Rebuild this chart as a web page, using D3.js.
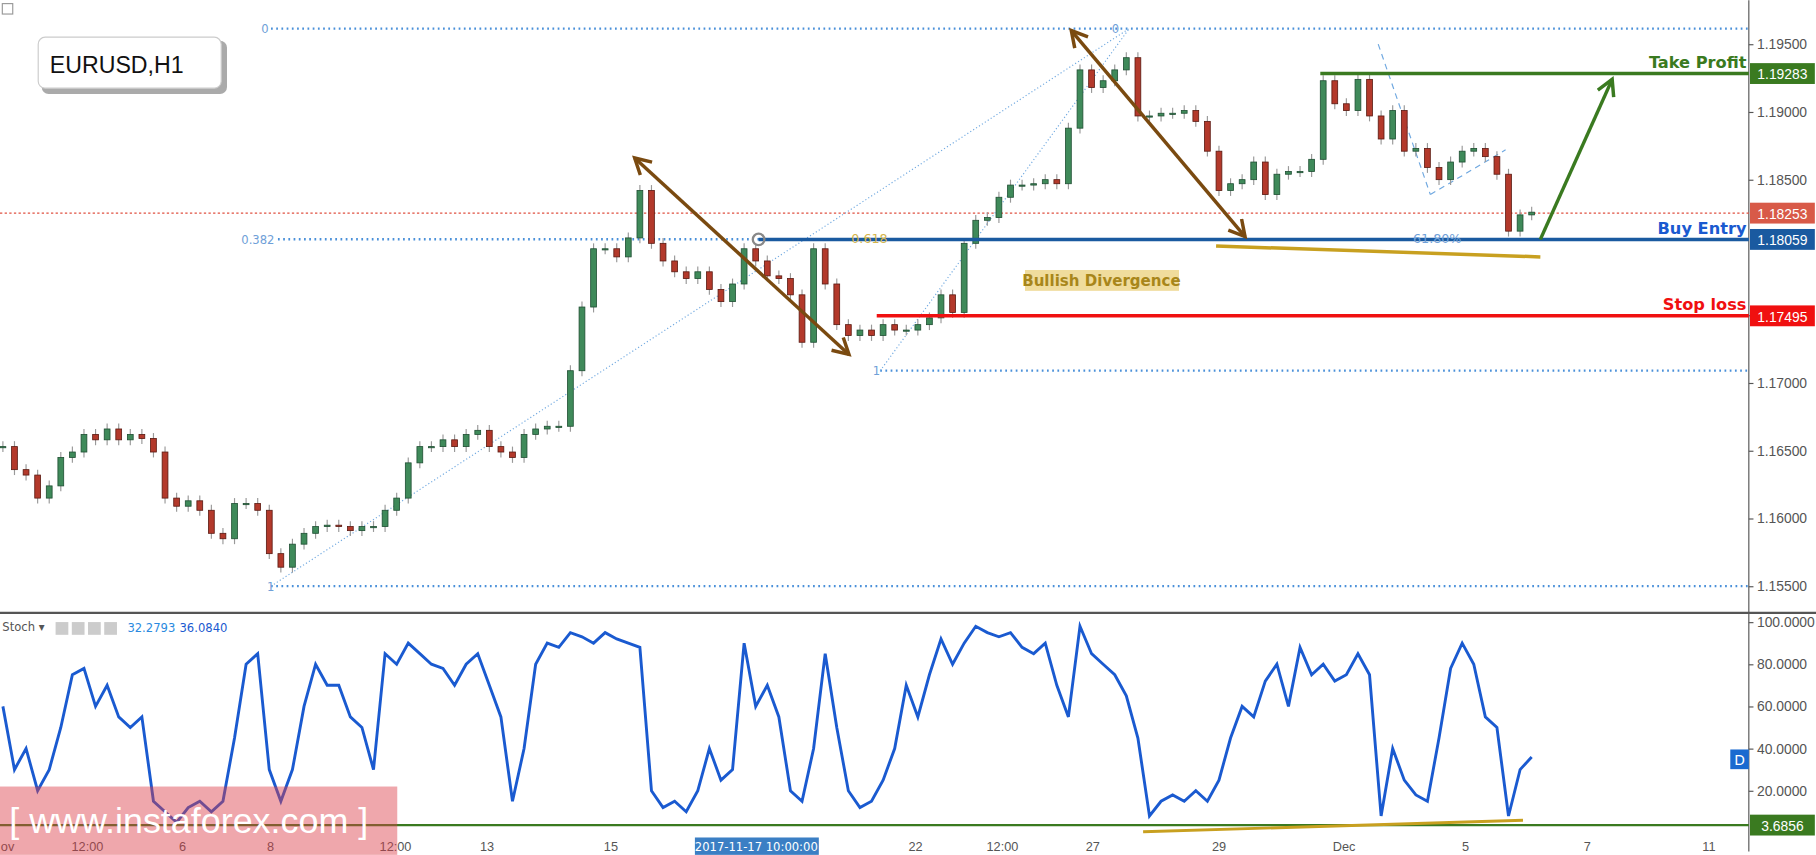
<!DOCTYPE html><html><head><meta charset="utf-8"><script src="https://cdn.jsdelivr.net/npm/d3@7"></script>
<style>body{margin:0;background:#fff;font-family:"DejaVu Sans",sans-serif}</style></head><body><svg id="c" width="1816" height="855" viewBox="0 0 1568 738"></svg>
<script>
const closes=[1.1653,1.1636,1.1632,1.1615,1.1624,1.1645,1.1649,1.1662,1.1658,1.1666,1.1658,1.1662,1.1659,1.1649,1.1615,1.1609,1.1613,1.1606,1.1589,1.1585,1.1611,1.1611,1.1606,1.1574,1.1564,1.1581,1.1589,1.1594,1.1595,1.1594,1.1591,1.1594,1.1594,1.1606,1.1615,1.1641,1.1653,1.1653,1.1658,1.1653,1.1662,1.1665,1.1653,1.1649,1.1645,1.1662,1.1666,1.1668,1.1668,1.1709,1.1756,1.1799,1.1799,1.1793,1.1807,1.1842,1.1803,1.1790,1.1782,1.1777,1.1782,1.1769,1.1760,1.1773,1.1799,1.1790,1.1779,1.1777,1.1765,1.1730,1.1799,1.1773,1.1743,1.1735,1.1739,1.1735,1.1743,1.1739,1.1739,1.1743,1.1748,1.1765,1.1752,1.1803,1.1820,1.1822,1.1837,1.1846,1.1846,1.1847,1.1850,1.1847,1.1888,1.1931,1.1918,1.1923,1.1931,1.1940,1.1897,1.1897,1.1899,1.1899,1.1901,1.1893,1.1871,1.1842,1.1847,1.1850,1.1863,1.1839,1.1854,1.1856,1.1856,1.1865,1.1923,1.1906,1.1901,1.1924,1.1897,1.1880,1.1901,1.1871,1.1873,1.1859,1.1850,1.1863,1.1871,1.1873,1.1867,1.1854,1.1812,1.1824,1.1826];
const stoch=[60,30,40,20,30,50,75,78,60,70,55,50,55,15,10,5,12,15,10,15,45,80,85,30,15,30,60,80,70,70,55,50,30,85,80,90,85,80,78,70,80,85,70,55,15,40,80,90,88,95,93,90,95,92,90,88,20,12,15,10,20,40,25,30,90,60,70,55,20,15,40,85,50,20,12,15,25,40,70,55,75,92,80,90,98,95,93,95,88,85,90,70,55,98,85,80,75,65,45,8,15,18,15,20,15,25,45,60,55,72,80,60,88,75,80,72,75,85,75,8,40,25,18,15,45,78,90,80,55,50,8,30,36];
const priceTicks=[1.155,1.16,1.165,1.17,1.175,1.185,1.19,1.195];
const stochTicks=[20,40,60,80,100];
const timeLabels=["ov","12:00","6","8","12:00","13","15","22","12:00","27","29","Dec","5","7","11"];
const timeIdx=[0.6,7.5,15.7,23.3,34.1,42,52.7,79,86.5,94.3,105.2,116,126.5,137,147.5];
const levels={tp:1.19283,entry:1.18059,stop:1.17495,last:1.18253,fib0:1.19615,fib382:1.1806,fib1a:1.1709,fib1b:1.155};
const stochLast=3.6856;

const svg=d3.select("#c");
const W=1510;
const x=d3.scaleLinear().domain([0,151]).range([0,W]);
const y=d3.scaleLinear().domain([1.155,1.195]).range([506,38]);
const ys=d3.scaleLinear().domain([0,100]).range([719,537]);
const g=svg.append("g");
g.append("line").attr("x1",W).attr("x2",W).attr("y1",0).attr("y2",735).attr("stroke","#555");
g.append("line").attr("x1",0).attr("x2",1568).attr("y1",529).attr("y2",529).attr("stroke","#555").attr("stroke-width",2);
const ax=d3.axisRight(y).tickValues(priceTicks).tickFormat(d3.format(".5f")).tickSize(4);
const ag=svg.append("g").attr("transform",`translate(${W},0)`).call(ax);
const as=svg.append("g").attr("transform",`translate(${W},0)`).call(d3.axisRight(ys).tickValues(stochTicks).tickFormat(d3.format(".4f")).tickSize(4));
[ag,as].forEach(a=>{a.select(".domain").remove();a.selectAll("text").attr("fill","#555").attr("font-size",12).attr("font-family","Arial,'Liberation Sans'");a.selectAll("line").attr("stroke","#555");});
const xa=svg.append("g").attr("transform","translate(0,724)").call(d3.axisBottom(x).tickValues(timeIdx).tickFormat((d,i)=>timeLabels[i]).tickSize(0));
xa.select(".domain").remove();xa.selectAll("text").attr("fill","#555").attr("font-size",11).attr("font-family","Arial,'Liberation Sans'");
const dotted=(p,x1,x2,col)=>g.append("line").attr("x1",x(x1)).attr("x2",x2).attr("y1",y(p)).attr("y2",y(p)).attr("stroke",col||"#4a90d9").attr("stroke-width",2).attr("stroke-dasharray","1.5,3");
dotted(levels.fib0,23.4,W);dotted(levels.fib382,24,W);dotted(levels.fib1a,76,W);dotted(levels.fib1b,23.4,W);
svg.append("text").attr("x",x(23.4)-2).attr("y",y(levels.fib0)+4).attr("text-anchor","end").attr("fill","#6fa0d8").attr("font-size",10).text("0");
svg.append("text").attr("x",x(23.7)).attr("y",y(levels.fib382)+4).attr("text-anchor","end").attr("fill","#6fa0d8").attr("font-size",10).text("0.382");
svg.append("text").attr("x",x(23.7)).attr("y",y(levels.fib1b)+4).attr("text-anchor","end").attr("fill","#6fa0d8").attr("font-size",10).text("1");
svg.append("text").attr("x",x(76)).attr("y",y(levels.fib1a)+4).attr("text-anchor","end").attr("fill","#6fa0d8").attr("font-size",10).text("1");
svg.append("text").attr("x",x(96)).attr("y",y(levels.fib0)+4).attr("fill","#6fa0d8").attr("font-size",10).text("0");
g.append("line").attr("x1",0).attr("x2",W).attr("y1",y(levels.last)).attr("y2",y(levels.last)).attr("stroke","#e05040").attr("stroke-dasharray","2,2");
const thin=(a,b,c,d,dash,col,w)=>g.append("line").attr("x1",x(a)).attr("y1",y(b)).attr("x2",x(c)).attr("y2",y(d)).attr("stroke",col||"#6fa8e0").attr("stroke-width",w||1).attr("stroke-dasharray",dash);
thin(23.4,levels.fib1b,97.5,levels.fib0,"1,2");thin(76,levels.fib1a,97.5,levels.fib0,"1,2");
thin(119,1.1950,123.5,1.1839,"5,4");thin(123.5,1.1839,130,1.1872,"5,4");
const cw=5;
closes.forEach((c,i)=>{const o=i?closes[i-1]:c;const up=c>=o;const hi=Math.max(o,c)+0.0004,lo=Math.min(o,c)-0.0004;
 g.append("line").attr("x1",x(i)+cw/2).attr("x2",x(i)+cw/2).attr("y1",y(hi)).attr("y2",y(lo)).attr("stroke","#999");
 g.append("rect").attr("x",x(i)).attr("width",cw).attr("y",y(Math.max(o,c))).attr("height",Math.max(1,Math.abs(y(o)-y(c)))).attr("fill",up?"#3f8a5a":"#b3392b").attr("stroke",up?"#1f4f33":"#5a1a12").attr("stroke-width",0.7);});
g.append("line").attr("x1",x(65.5)).attr("x2",W).attr("y1",y(levels.entry)).attr("y2",y(levels.entry)).attr("stroke","#1a5aa0").attr("stroke-width",3);
g.append("circle").attr("cx",x(65.5)).attr("cy",y(levels.entry)).attr("r",5).attr("fill","none").attr("stroke","#888").attr("stroke-width",2);
svg.append("text").attr("x",x(73.5)).attr("y",y(levels.entry)+3).attr("fill","#d4b44a").attr("font-size",11).text("0.618");
svg.append("text").attr("x",x(122)).attr("y",y(levels.entry)+3).attr("fill","#6fa0d8").attr("font-size",11).text("61.80%");
g.append("line").attr("x1",x(114)).attr("x2",W).attr("y1",y(levels.tp)).attr("y2",y(levels.tp)).attr("stroke","#3a7a20").attr("stroke-width",3);
g.append("line").attr("x1",x(75.7)).attr("x2",W).attr("y1",y(levels.stop)).attr("y2",y(levels.stop)).attr("stroke","#f01010").attr("stroke-width",3);
const lab=(t,p,col)=>svg.append("text").attr("x",W-2).attr("y",y(p)-5).attr("text-anchor","end").attr("fill",col).attr("font-size",14).attr("font-weight","bold").attr("font-family","'DejaVu Sans'").text(t);
lab("Take Profit",levels.tp,"#3a7a20");lab("Buy Entry",levels.entry,"#1a5ad0");lab("Stop loss",levels.stop,"#f01010");
thin(105,1.1801,133,1.1793,null,"#c8a020",3);
g.append("rect").attr("x",885).attr("y",233).attr("width",133).attr("height",18).attr("fill","#f0dc9c");
svg.append("text").attr("x",951).attr("y",247).attr("text-anchor","middle").attr("fill","#a8861a").attr("font-size",13).attr("font-weight","bold").text("Bullish Divergence");
const defs=svg.append("defs");
[["br","#7a4a10"],["gr","#3a7a20"]].forEach(([id,c])=>defs.append("marker").attr("id",id).attr("viewBox","0 0 12 12").attr("refX",10).attr("refY",6).attr("markerWidth",6).attr("markerHeight",6).attr("orient","auto-start-reverse").append("path").attr("d","M1,1 L10,6 L1,11").attr("fill","none").attr("stroke",c).attr("stroke-width",2));
const arr=(a,b,c,d,col,m,both)=>{const l=g.append("line").attr("x1",x(a)).attr("y1",y(b)).attr("x2",x(c)).attr("y2",y(d)).attr("stroke",col).attr("stroke-width",3).attr("marker-end",`url(#${m})`);if(both)l.attr("marker-start",`url(#${m})`);};
arr(54.8,1.1866,73.3,1.1721,"#7a4a10","br",true);
arr(92.5,1.1960,107.5,1.1808,"#7a4a10","br",true);
arr(133,levels.entry,139.2,1.1924,"#3a7a20","gr",false);
const box=(p,t,col,yy)=>{const yc=yy!==undefined?yy:y(p);svg.append("rect").attr("x",W+1).attr("y",yc-9).attr("width",56).attr("height",18).attr("fill",col);svg.append("text").attr("x",W+29).attr("y",yc+5).attr("text-anchor","middle").attr("fill","#fff").attr("font-size",12).attr("font-family","Arial,'Liberation Sans'").text(t);};
box(levels.tp,"1.19283","#3a7a20");box(levels.last,"1.18253","#d85a48");box(levels.entry,"1.18059","#1a5aa0");box(levels.stop,"1.17495","#f01010");
g.append("line").attr("x1",0).attr("x2",W).attr("y1",ys(stochLast)).attr("y2",ys(stochLast)).attr("stroke","#3a7a20").attr("stroke-width",2);
g.append("path").datum(stoch).attr("d",d3.line().x((d,i)=>x(i)+cw/2).y(d=>ys(d))).attr("fill","none").attr("stroke","#1a5ad0").attr("stroke-width",2.5);
g.append("line").attr("x1",x(98.7)).attr("y1",ys(0.5)).attr("x2",x(131.5)).attr("y2",ys(6)).attr("stroke","#c8a020").attr("stroke-width",2.5);
box(null,"3.6856","#3a7a20",ys(stochLast));
svg.append("rect").attr("x",1494).attr("y",647).attr("width",16).attr("height",17).attr("fill","#1a6ad0");
svg.append("text").attr("x",1502).attr("y",660).attr("text-anchor","middle").attr("fill","#fff").attr("font-size",12).text("D");
svg.append("text").attr("x",2).attr("y",545).attr("fill","#555").attr("font-size",10).text("Stoch ▾");
[48,62,76,90].forEach(v=>svg.append("rect").attr("x",v).attr("y",537).attr("width",11).attr("height",11).attr("fill","#ccc"));
svg.append("text").attr("x",110).attr("y",546).attr("fill","#2a8ae0").attr("font-size",10).text("32.2793");
svg.append("text").attr("x",155).attr("y",546).attr("fill","#1a5ad0").attr("font-size",10).text("36.0840");
svg.append("rect").attr("x",36).attr("y",35).attr("width",160).attr("height",46).attr("rx",6).attr("fill","#aaa");
svg.append("rect").attr("x",33).attr("y",32).attr("width",158).attr("height",44).attr("rx",6).attr("fill","#fff").attr("stroke","#ccc");
svg.append("text").attr("x",43).attr("y",63).attr("font-size",20).attr("font-family","Arial,'Liberation Sans'").attr("fill","#111").text("EURUSD,H1");
svg.append("rect").attr("x",2).attr("y",3).attr("width",9).attr("height",9).attr("fill","none").attr("stroke","#999");
svg.append("rect").attr("x",600).attr("y",723).attr("width",107).attr("height",15).attr("fill","#3b7fc4");
svg.append("text").attr("x",653).attr("y",735).attr("text-anchor","middle").attr("fill","#fff").attr("font-size",10).text("2017-11-17 10:00:00");
svg.append("rect").attr("x",0).attr("y",679).attr("width",343).attr("height",59).attr("fill","rgba(220,60,70,0.45)");
svg.append("text").attr("x",8).attr("y",719).attr("fill","#fff").attr("font-size",31).attr("font-family","Arial,'Liberation Sans'").text("[ www.instaforex.com ]");
</script></body></html>
